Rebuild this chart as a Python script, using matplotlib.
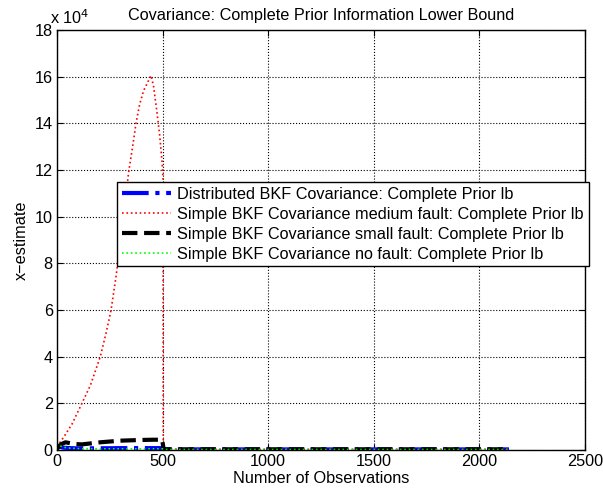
import matplotlib
matplotlib.use("Agg")
import matplotlib.pyplot as plt
from matplotlib.ticker import FuncFormatter

plt.rcParams['font.family'] = ['Liberation Sans', 'DejaVu Sans']

# Data
x_dist = [0, 10, 30, 60, 100, 150, 200, 250, 300, 350, 400, 450, 495, 505, 700, 1000, 1300, 1600, 1900, 2140]
y_dist = [2000, 1500, 1000, 800, 700, 700, 750, 750, 800, 800, 800, 800, 800, 300, 250, 250, 250, 250, 250, 250]

x_med = [0, 31, 71, 118, 158, 205, 232, 256, 279, 310, 339, 358, 374, 391, 410, 445, 457, 473, 486, 497, 502, 503, 510, 800, 1200, 1600, 2000, 2140]
y_med = [1500, 5400, 11100, 20000, 27700, 40000, 50000, 60000, 74000, 96000, 119000, 130000, 140000, 148000, 154000, 160500, 156000, 145000, 135000, 124000, 116000, 500, 400, 300, 300, 300, 300, 300]

x_small = [0, 20, 40, 80, 118, 205, 300, 400, 456, 498, 505, 800, 1200, 1600, 2000, 2140]
y_small = [500, 2500, 3300, 2600, 2400, 3300, 4000, 4300, 4400, 4400, 300, 300, 300, 300, 300, 300]

x_none = [0, 10, 30, 60, 100, 200, 300, 400, 500, 510, 800, 1200, 1600, 2000, 2140]
y_none = [3000, 2000, 1200, 800, 600, 500, 500, 500, 500, 200, 200, 200, 200, 200, 200]

FS = 11.7

fig = plt.figure(figsize=(6.03, 4.96), dpi=100)
ax = fig.add_axes([57/603, 46/496, 528/603, 420/496])

ax.plot(x_dist, y_dist, color='blue', linestyle='-.', linewidth=3,
        label='Distributed BKF Covariance: Complete Prior lb')
ax.plot(x_med, y_med, color='red', linestyle=':', linewidth=1.2,
        label='Simple BKF Covariance medium fault: Complete Prior lb')
ax.plot(x_small, y_small, color='black', linestyle='--', linewidth=3,
        label='Simple BKF Covariance small fault: Complete Prior lb')
ax.plot(x_none, y_none, color='lime', linestyle=':', linewidth=1.2,
        label='Simple BKF Covariance no fault: Complete Prior lb')

ax.set_xlim(0, 2500)
ax.set_ylim(0, 180000)
ax.set_xticks([0, 500, 1000, 1500, 2000, 2500])
ax.set_yticks([i * 20000 for i in range(10)])
ax.yaxis.set_major_formatter(FuncFormatter(lambda v, p: f"{v/1e4:g}"))
ax.tick_params(direction='in', top=True, right=True, labelsize=FS, length=4, pad=3)
ax.grid(True, linestyle=':', color='black', linewidth=0.8)
for s in ax.spines.values():
    s.set_linewidth(1.0)

ax.set_title('Covariance: Complete Prior Information Lower Bound', fontsize=FS, pad=7)
ax.set_xlabel('Number of Observations', fontsize=FS, labelpad=1)
ax.set_ylabel('x\u2212estimate', fontsize=FS, labelpad=4)
ax.text(-0.013, 1.008, 'x 10$^4$', transform=ax.transAxes, fontsize=FS, va='bottom', ha='left')

leg = ax.legend(loc='upper left', bbox_to_anchor=(117/603, (496-182)/496),
                bbox_transform=fig.transFigure, fontsize=FS, fancybox=False,
                framealpha=1, edgecolor='black', handlelength=3, borderpad=0.3,
                labelspacing=0.3, handletextpad=0.4, borderaxespad=0)
leg.get_frame().set_linewidth(1.0)

fig.savefig('out.png', dpi=100)
